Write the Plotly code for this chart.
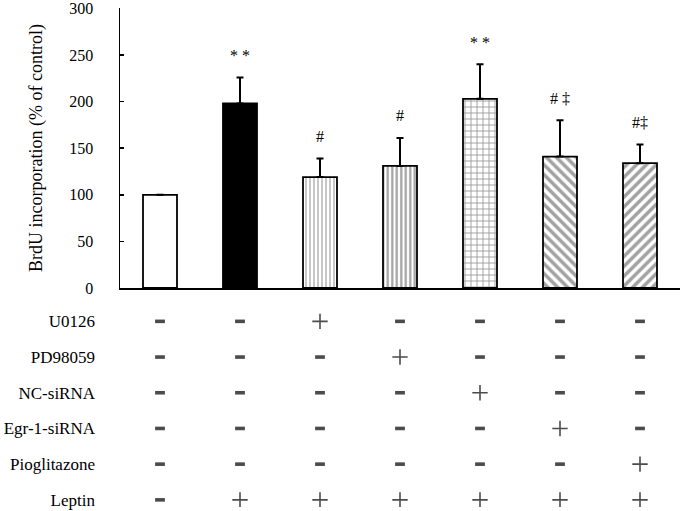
import plotly.graph_objects as go

# ---- data ----
groups = [0, 1, 2, 3, 4, 5, 6]
values = [100, 198, 119, 131, 203, 141, 134]
err_plus = [None, 28, 20, 30, 37, 39, 20]
sig_labels = ["", "* *", "#", "#", "* *", "# \u2021", "#\u2021"]

bar_colors = ["white", "black", "white", "white", "white", "white", "white"]
bar_patterns = ["", "", "|", "|", "+", "\\", "/"]
pattern_sizes = [8, 8, 4, 4.5, 6, 7, 7]
pattern_solidity = [0.3, 0.3, 0.3, 0.5, 0.3, 0.5, 0.5]

treatments = ["U0126", "PD98059", "NC-siRNA", "Egr-1-siRNA", "Pioglitazone", "Leptin"]
# 1 = "+", 0 = "-" ; rows = treatments, columns = groups
treatment_matrix = [
    [0, 0, 1, 0, 0, 0, 0],
    [0, 0, 0, 1, 0, 0, 0],
    [0, 0, 0, 0, 1, 0, 0],
    [0, 0, 0, 0, 0, 1, 0],
    [0, 0, 0, 0, 0, 0, 1],
    [0, 1, 1, 1, 1, 1, 1],
]

y_ticks = [0, 50, 100, 150, 200, 250, 300]

FONT = "Liberation Serif"

fig = go.Figure()

fig.add_trace(go.Bar(
    x=groups, y=values, width=0.425,
    marker=dict(
        color=bar_colors,
        line=dict(color="black", width=1.8),
        pattern=dict(shape=bar_patterns, fgcolor="black", bgcolor="white",
                     size=pattern_sizes, solidity=pattern_solidity),
    ),
    error_y=dict(type="data", symmetric=False,
                 array=err_plus, arrayminus=[0] * len(values),
                 color="black", thickness=2, width=3.5),
    showlegend=False, hoverinfo="skip",
    xaxis="x", yaxis="y",
))

# significance labels
for g, v, e, lab in zip(groups, values, err_plus, sig_labels):
    if lab:
        fig.add_annotation(x=g, y=v + (e or 0), xref="x", yref="y",
                           text=lab, showarrow=False, yanchor="middle", yshift=22,
                           font=dict(family=FONT, size=16, color="black"))

# treatment table
tx, ty, tsym, tsize, tlw = [], [], [], [], []
for r, row in enumerate(treatment_matrix):
    for c, val in enumerate(row):
        tx.append(groups[c])
        ty.append(r)
        if val:
            tsym.append("cross-thin"); tsize.append(11); tlw.append(1.6)
        else:
            tsym.append("line-ew"); tsize.append(7); tlw.append(3.6)

fig.add_trace(go.Scatter(
    x=tx, y=ty, mode="markers",
    marker=dict(symbol=tsym, size=tsize, color="black",
                line=dict(color="black", width=tlw)),
    showlegend=False, hoverinfo="skip",
    xaxis="x", yaxis="y2",
))

W, H = 684, 511
t, b = 8, 4
plot_h = H - t - b
zero_px = 288
main_bottom = (H - b - zero_px) / plot_h

fig.update_layout(
    width=W, height=H,
    margin=dict(l=120, r=4, t=t, b=b, autoexpand=False),
    paper_bgcolor="white", plot_bgcolor="white",
    font=dict(family=FONT, color="black"),
    xaxis=dict(range=[-0.5, 6.5], showgrid=False, zeroline=False,
               showticklabels=False, ticks="", showline=True,
               linecolor="black", linewidth=1.5, anchor="y", automargin=False),
    yaxis=dict(domain=[main_bottom, 1], range=[0, 300.5], tickvals=y_ticks,
               showgrid=False, zeroline=False, showline=True,
               linecolor="black", linewidth=1.5, ticks="inside",
               ticklen=4, tickwidth=1.5, tickcolor="black",
               ticklabelstandoff=22, automargin=False,
               ticklabeloverflow="allow",
               tickfont=dict(family=FONT, size=16, color="black"),
               title=dict(text="BrdU incorporation (% of control)",
                          font=dict(family=FONT, size=18, color="black"),
                          standoff=22)),
    yaxis2=dict(domain=[0, main_bottom - 0.001], anchor="x",
                range=[5.2, -0.92], tickvals=list(range(len(treatments))),
                ticktext=treatments, showgrid=False, zeroline=False,
                showline=False, ticks="", ticklabelstandoff=24, automargin=False,
                tickfont=dict(family=FONT, size=17, color="black")),
)

fig.write_html("out.html",
               config={"displayModeBar": False, "staticPlot": True},
               post_script="document.body.style.margin='0';document.body.style.overflow='hidden';")
